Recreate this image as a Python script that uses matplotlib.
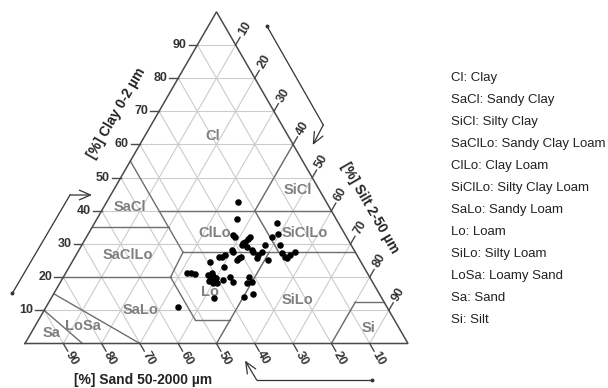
import numpy as np
import matplotlib
matplotlib.use("Agg")
import matplotlib.pyplot as plt

plt.rcParams['font.family'] = ['Liberation Sans', 'DejaVu Sans']

# ---- data: soil samples (silt %, clay %); sand = 100 - silt - clay ----
silt = [34.2, 36.6, 47.6, 38.0, 38.7, 49.6, 48.3, 42.6, 42.5, 42.1, 41.9, 41.7,
        39.9, 40.5, 43.3, 45.1, 45.8, 47.8, 48.0, 47.6, 47.7, 51.7, 53.4, 54.8,
        55.5, 55.9, 56.8, 38.9, 38.3, 42.7, 43.1, 43.2, 50.9, 37.7, 36.1, 40.4,
        31.7, 32.7, 33.9, 37.5, 38.1, 39.0, 38.6, 39.4, 40.3, 41.0, 40.1, 40.0,
        38.6, 42.6, 42.2, 43.5, 44.9, 48.4, 49.9, 48.8, 50.2, 52.1, 34.4]
clay = [42.7, 37.5, 36.2, 32.7, 32.2, 32.9, 32.2, 32.2, 31.5, 30.7, 30.2, 29.7,
        28.2, 27.7, 29.2, 28.2, 27.7, 29.7, 27.7, 26.7, 25.7, 29.7, 27.2, 26.2,
        25.7, 26.7, 27.5, 26.7, 26.2, 25.2, 25.7, 26.2, 25.2, 26.0, 24.5, 23.2,
        21.3, 21.2, 20.9, 20.7, 21.2, 20.3, 19.7, 19.1, 18.6, 18.1, 18.1, 19.7,
        18.8, 13.6, 19.1, 20.1, 18.6, 20.1, 18.6, 18.1, 14.1, 14.8, 10.9]

# texture class labels (silt %, clay %)
class_names = ["Cl", "SiCl", "SaCl", "SaClLo", "ClLo", "SiClLo",
               "SaLo", "Lo", "SiLo", "LoSa", "Sa", "Si"]
class_silt = [17.8, 48.2, 6.8, 13.5, 33.0, 56.5, 25.0, 40.5, 64.7, 12.4, 5.4, 87.2]
class_clay = [62.6, 46.3, 41.2, 26.7, 33.2, 33.3, 10.1, 15.6, 13.1, 5.4, 3.2, 4.7]

# class boundary segments: (silt1, clay1, silt2, clay2)
boundaries = [
    (0, 55, 27.5, 27.5),
    (15, 40, 60, 40),
    (40, 40, 40, 60),
    (0, 35, 20, 35),
    (27.5, 27.5, 72.5, 27.5),
    (52.5, 27.5, 40, 40),
    (0, 20, 28, 20),
    (28, 20, 27.5, 27.5),
    (28, 20, 41, 7),
    (41, 7, 50, 7),
    (50, 0, 50, 27.5),
    (80, 0, 80, 12.5),
    (80, 12.5, 87.5, 12.5),
    (0, 15, 30, 0),
    (0, 10, 15, 0),
]

tick_values = [10, 20, 30, 40, 50, 60, 70, 80, 90]

legend_lines = ["Cl: Clay", "SaCl: Sandy Clay", "SiCl: Silty Clay",
                "SaClLo: Sandy Clay Loam", "ClLo: Clay Loam",
                "SiClLo: Silty Clay Loam", "SaLo: Sandy Loam", "Lo: Loam",
                "SiLo: Silty Loam", "LoSa: Loamy Sand", "Sa: Sand", "Si: Silt"]

S3 = np.sqrt(3) / 2


def tern(si, cl):
    si = np.asarray(si, float)
    cl = np.asarray(cl, float)
    return si + cl / 2.0, cl * S3


# pixel layout helpers (figure is 608 x 388 px)
PX = 3.83
X0, Y0 = 25.0, 343.5


def P(px, py):
    return ((px - X0) / PX, (Y0 - py) / PX)


fig = plt.figure(figsize=(6.08, 3.88), dpi=100)
ax = fig.add_axes([0, 0, 1, 1])
ax.set_xlim(-X0 / PX, (608 - X0) / PX)
ax.set_ylim(-(388 - Y0) / PX, Y0 / PX)
ax.axis('off')

grid_c = '#cccccc'
bound_c = '#6e6e6e'
edge_c = '#4a4a4a'

# grid lines
for v in tick_values:
    x, y = tern([0, 100 - v], [v, v])
    ax.plot(x, y, color=grid_c, lw=0.8, zorder=1)
    x, y = tern([v, v], [0, 100 - v])
    ax.plot(x, y, color=grid_c, lw=0.8, zorder=1)
    x, y = tern([100 - v, 0], [0, 100 - v])
    ax.plot(x, y, color=grid_c, lw=0.8, zorder=1)

# class boundaries
for s1, c1, s2, c2 in boundaries:
    x, y = tern([s1, s2], [c1, c2])
    ax.plot(x, y, color=bound_c, lw=1.0, zorder=2)

# triangle outline
x, y = tern([0, 100, 0, 0], [0, 0, 100, 0])
ax.plot(x, y, color=edge_c, lw=1.1, zorder=3, solid_joinstyle='miter')

tick_kw = dict(fontsize=9, fontweight='bold', color='#333333')
tl = 2.3
for v in tick_values:
    # clay ticks (left edge)
    x, y = tern(0, v)
    ax.plot([x, x - tl], [y, y], color=edge_c, lw=1.0)
    ax.text(x - tl - 0.6, y, str(v), ha='right', va='center', **tick_kw)
    # sand ticks (bottom)
    x, y = tern(100 - v, 0)
    dx, dy = 0.5, -S3
    ax.plot([x, x + tl * dx], [y, y + tl * dy], color=edge_c, lw=1.0)
    ax.text(x + 4.4 * dx, y + 4.4 * dy, str(v), ha='center', va='center',
            rotation=-60, rotation_mode='anchor', **tick_kw)
    # silt ticks (right edge)
    x, y = tern(v, 100 - v)
    dx, dy = 0.5, S3
    ax.plot([x, x + tl * dx], [y, y + tl * dy], color=edge_c, lw=1.0)
    ax.text(x + 4.9 * dx, y + 4.9 * dy, str(v), ha='center', va='center',
            rotation=60, rotation_mode='anchor', **tick_kw)

# class labels
cx, cy = tern(class_silt, class_clay)
for name, x, y in zip(class_names, cx, cy):
    ax.text(x, y, name, ha='center', va='center', fontsize=10.5,
            fontweight='bold', color='#7f7f7f', zorder=4)

# data points
px_, py_ = tern(silt, clay)
ax.scatter(px_, py_, s=22, color='black', zorder=5, linewidths=0)

# axis titles
title_kw = dict(fontsize=10, fontweight='bold', color='#222222',
                ha='center', va='center')
ax.text(*P(117, 113), "[%] Clay 0-2 µm", rotation=60, **title_kw)
ax.text(*P(370, 208), "[%] Silt 2-50 µm", rotation=-60, **title_kw)
ax.text(*P(143, 380), "[%] Sand 50-2000 µm", **title_kw)

# direction arrows
arrow_c = '#333333'


def polyarrow(pts):
    pts = [P(*p) for p in pts]
    xs = [p[0] for p in pts[:-1]]
    ys = [p[1] for p in pts[:-1]]
    ax.plot(xs[:1], ys[:1], marker='o', ms=1.8, color=arrow_c)
    ax.plot(xs, ys, color=arrow_c, lw=0.9)
    ax.annotate('', xy=pts[-1], xytext=pts[-2],
                arrowprops=dict(arrowstyle='->,head_length=0.8,head_width=0.35',
                                color=arrow_c, lw=0.9, shrinkA=0, shrinkB=0))


polyarrow([(12.3, 293.3), (70, 195), (92, 195)])
polyarrow([(266.7, 25.7), (323.3, 125), (312.7, 145)])
polyarrow([(371.7, 380), (256.7, 380), (245, 360.5)])

# legend text
for i, line in enumerate(legend_lines):
    ax.text(*P(451, 78 + 22 * i), line, ha='left', va='center',
            fontsize=9.5, color='#222222')

fig.savefig("out.png", dpi=100)
